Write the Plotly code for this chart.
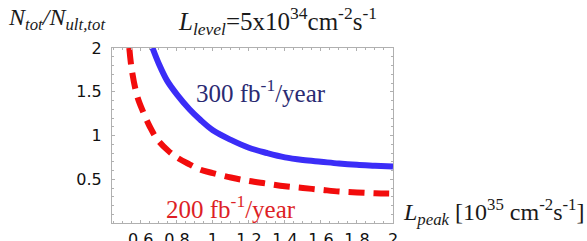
import plotly.graph_objects as go

# Data
blue_x = [0.665, 0.70, 0.745, 0.80, 0.87, 0.93, 1.0, 1.1, 1.2, 1.3, 1.4, 1.5, 1.6, 1.7, 1.8, 1.9, 2.0]
blue_y = [2.0, 1.82, 1.63, 1.47, 1.30, 1.18, 1.06, 0.95, 0.86, 0.80, 0.75, 0.72, 0.70, 0.68, 0.665, 0.655, 0.645]

red_x = [0.536, 0.55, 0.58, 0.615, 0.65, 0.69, 0.75, 0.80, 0.87, 0.93, 1.0, 1.1, 1.2, 1.3, 1.4, 1.5, 1.6, 1.7, 1.8, 1.9, 2.0]
red_y = [2.0, 1.75, 1.45, 1.26, 1.10, 0.96, 0.83, 0.75, 0.67, 0.61, 0.57, 0.52, 0.48, 0.45, 0.42, 0.40, 0.38, 0.36, 0.35, 0.34, 0.335]

x_ticks = [0.6, 0.8, 1.0, 1.2, 1.4, 1.6, 1.8, 2.0]
x_tick_labels = ["0.6", "0.8", "1", "1.2", "1.4", "1.6", "1.8", "2"]
y_ticks = [0.5, 1.0, 1.5, 2.0]
y_tick_labels = ["0.5", "1", "1.5", "2"]

W, H = 587, 241
L, R, T, B = 112, 393, 48, 223

def px(x):
    return (x - L) / (R - L)

def py(y):
    return (B - y) / (B - T)

fig = go.Figure()
fig.add_trace(go.Scatter(x=blue_x, y=blue_y, mode="lines",
                         line=dict(color="#3b2df7", width=6, shape="spline"),
                         showlegend=False, cliponaxis=False))
fig.add_trace(go.Scatter(x=red_x, y=red_y, mode="lines",
                         line=dict(color="#f20c0c", width=6, dash="16px,9px", shape="spline"),
                         showlegend=False, cliponaxis=False))

axis_common = dict(showgrid=False, zeroline=False, showline=True, linecolor="#b0b0b0",
                   linewidth=1, mirror="allticks", ticks="inside", ticklen=3,
                   tickcolor="#b0b0b0", automargin=False,
                   tickfont=dict(family="DejaVu Sans, Arial", size=16, color="#111111"))

fig.update_layout(
    width=W, height=H,
    margin=dict(l=L, r=W - R, t=T, b=H - B),
    plot_bgcolor="white", paper_bgcolor="white",
    xaxis=dict(range=[0.44, 2.0], tickvals=x_ticks, ticktext=x_tick_labels,
               ticklabelstandoff=2,
               minor=dict(dtick=0.05, ticks="inside", ticklen=2, tickcolor="#b0b0b0"),
               **axis_common),
    yaxis=dict(range=[0, 2.0], tickvals=y_ticks, ticktext=y_tick_labels,
               ticklabelstandoff=6,
               minor=dict(dtick=0.1, ticks="inside", ticklen=2, tickcolor="#b0b0b0"),
               **axis_common),
)

serif = "Liberation Serif, Times New Roman, serif"
ann = [
    dict(text="<i>N<sub>tot</sub>/N<sub>ult,tot</sub></i>", x=px(6), y=py(19),
         xanchor="left", yanchor="middle", font=dict(size=24, color="#1a1a1a", family=serif)),
    dict(text="<i>L<sub>level</sub></i>=5x10<sup>34</sup>cm<sup>-2</sup>s<sup>-1</sup>",
         x=px(176), y=py(21), xanchor="left", yanchor="middle",
         font=dict(size=25, color="#1a1a1a", family=serif)),
    dict(text="300 fb<sup>-1</sup>/year", x=px(194), y=py(91), xanchor="left", yanchor="middle",
         font=dict(size=25, color="#2a2a72", family=serif)),
    dict(text="200 fb<sup>-1</sup>/year", x=px(164), y=py(207), xanchor="left", yanchor="middle",
         font=dict(size=25, color="#dd1f26", family=serif)),
    dict(text="<i>L<sub>peak</sub></i> [10<sup>35</sup> cm<sup>-2</sup>s<sup>-1</sup>]",
         x=px(401), y=py(212), xanchor="left", yanchor="middle",
         font=dict(size=24, color="#1a1a1a", family=serif)),
]
for a in ann:
    fig.add_annotation(xref="paper", yref="paper", showarrow=False, **a)

fig.write_html("out.html", config={"displayModeBar": False},
               post_script="document.body.style.margin='0';")
